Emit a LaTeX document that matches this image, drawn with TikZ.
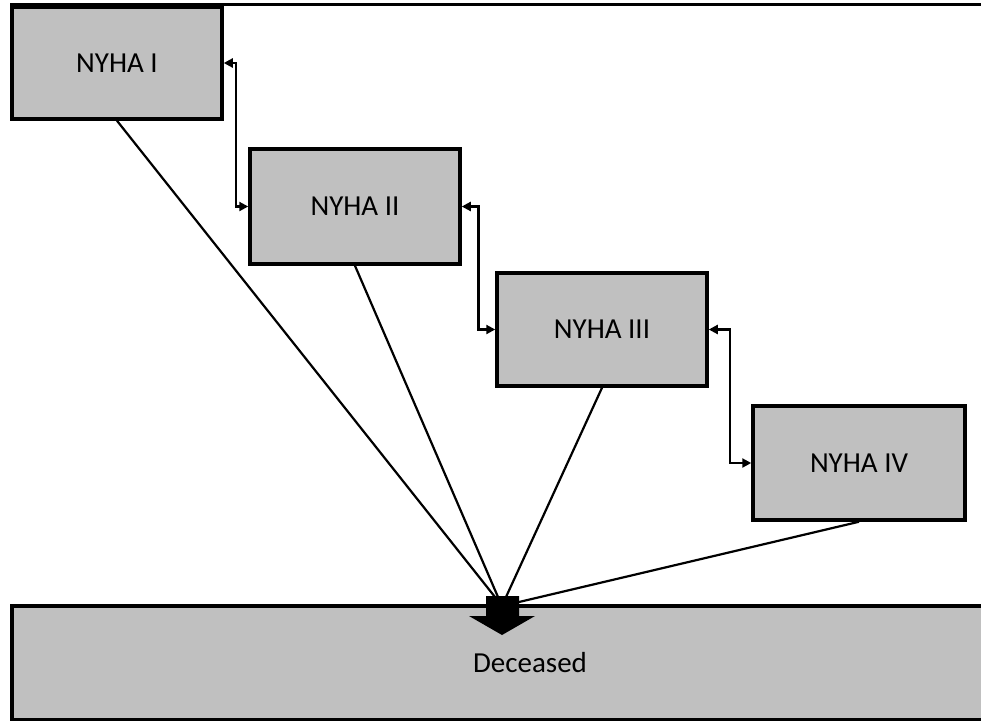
\documentclass[tikz,border=0pt]{standalone}
\usepackage{fontspec}
\setmainfont{Carlito}
\usetikzlibrary{arrows.meta,calc}
\definecolor{boxgray}{RGB}{192,192,192}
\begin{document}
\begin{tikzpicture}[x=1pt,y=-1pt,
  stagebox/.style={draw=black,fill=boxgray,line width=3.5pt,rectangle,inner sep=0pt,
    font=\fontsize{29}{34}\selectfont},
  conn/.style={line width=2.2pt,{Triangle[length=9pt,width=9pt]}-{Triangle[length=9pt,width=9pt]}},
  death/.style={line width=2.2pt}]
\useasboundingbox (0,0) rectangle (981,720);
\clip (0,0) rectangle (981,720);
\draw[line width=3pt] (10,4) -- (985,4);
% boxes
\node[stagebox,minimum width=210pt,minimum height=112pt] (n1) at (117,63) {NYHA I};
\node[stagebox,minimum width=210pt,minimum height=115pt] (n2) at (355,206.5) {NYHA II};
\node[stagebox,minimum width=210pt,minimum height=113pt] (n3) at (602,329.5) {NYHA III};
\node[stagebox,minimum width=212pt,minimum height=114pt] (n4) at (859,463) {NYHA IV};
\node[stagebox,minimum width=1036pt,minimum height=113.5pt] (dec) at (530,662.75) {Deceased};
% block arrow
\fill (486,596) -- (519,596) -- (519,616) -- (535,616) -- (502,635) -- (469,616) -- (486,616) -- cycle;
\coordinate (t1) at (495,597);
\coordinate (t2) at (498,597);
\coordinate (t3) at (506,597);
\coordinate (t4) at (519,602);
% transitions
\draw[conn] (n1.east) -| ($(n1.east)!.5!(n2.west)$) |- (n2.west);
\draw[conn] (n2.east) -| ($(n2.east)!.5!(n3.west)$) |- (n3.west);
\draw[conn] (n3.east) -| ($(n3.east)!.5!(n4.west)$) |- (n4.west);
% to deceased
\draw[death] (n1.south) -- (t1);
\draw[death] (n2.south) -- (t2);
\draw[death] (n3.south) -- (t3);
\draw[death] (n4.south) -- (t4);
\end{tikzpicture}
\end{document}
